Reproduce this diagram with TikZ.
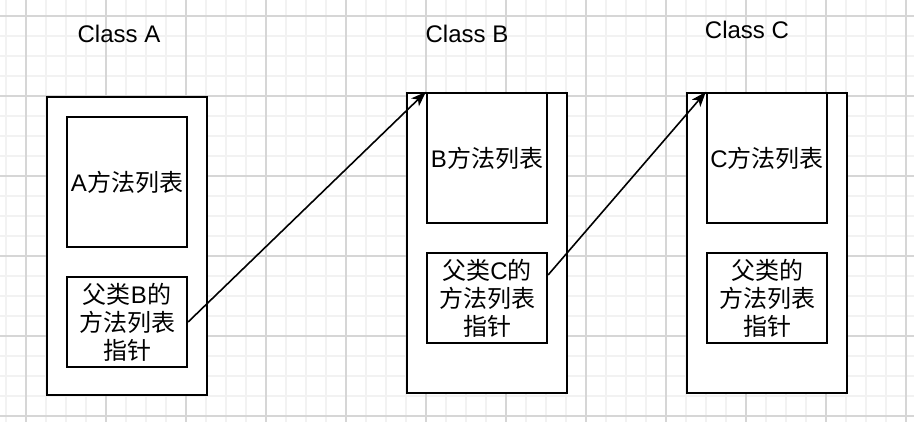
\documentclass[tikz,border=0pt]{standalone}
\usepackage{fontspec}
\setmainfont{Liberation Sans}
\newfontfamily\cjk{Noto Sans CJK SC}
\usetikzlibrary{arrows.meta, positioning, calc}
\definecolor{minorgrid}{HTML}{F2F2F2}
\definecolor{majorgrid}{HTML}{D6D6D6}

\begin{document}
\begin{tikzpicture}[x=1pt, y=-1pt,
    classbox/.style={draw, line width=2.2pt, minimum width=160pt, inner sep=0pt},
    listbox/.style={draw, line width=2.2pt, fill=white, minimum width=120pt, minimum height=130pt, inner sep=0pt},
    ptrbox/.style={draw, line width=2.2pt, fill=white, minimum width=120pt, minimum height=90pt, inner sep=0pt, align=center},
    label/.style={font=\fontsize{24}{28}\selectfont},
    ptrarrow/.style={line width=1.6pt, -{Stealth[length=15pt, width=11pt, inset=4pt]}}]
  \useasboundingbox (0,0) rectangle (914,422);
  \fill[white] (0,0) rectangle (914,422);

  % Grid
  \foreach \gx in {6,26,...,906} \draw[minorgrid, line width=1.5pt] (\gx,0) -- (\gx,422);
  \foreach \gy in {16,36,...,416} \draw[minorgrid, line width=1.5pt] (0,\gy) -- (914,\gy);
  \foreach \gx in {26,106,...,906} \draw[majorgrid, line width=1.5pt] (\gx,0) -- (\gx,422);
  \foreach \gy in {16,96,...,416} \draw[majorgrid, line width=1.5pt] (0,\gy) -- (914,\gy);

  % Labels
  \node [label] (titleA) at (119,34) {Class A};
  \node [label] (titleB) at (467,34) {Class B};
  \node [label] (titleC) at (747,30) {Class C};

  % Class A
  \node [classbox, fill=white, minimum height=298pt] (classA) at (127,246) {};
  \node [listbox, label] (methA) at (127,182) {A{\cjk 方法列表}};
  \node [ptrbox, label] (ptrA) at (127,322) {{\cjk 父类}B{\cjk 的}\\{\cjk 方法列表}\\{\cjk 指针}};

  % Class B
  \node [classbox, fill=white, minimum height=300pt] (classB) at (487,243) {};
  \node [listbox, label] (methB) at (487,158) {B{\cjk 方法列表}};
  \node [ptrbox, label] (ptrB) at (487,298) {{\cjk 父类}C{\cjk 的}\\{\cjk 方法列表}\\{\cjk 指针}};

  % Class C
  \node [classbox, fill=white, minimum height=300pt] (classC) at (767,243) {};
  \node [listbox, label] (methC) at (767,158) {C{\cjk 方法列表}};
  \node [ptrbox, label] (ptrC) at (767,298) {{\cjk 父类的}\\{\cjk 方法列表}\\{\cjk 指针}};

  % Pointers
  \draw[ptrarrow] (ptrA.east) -- (methB.north west);
  \draw[ptrarrow] ($(ptrB.north east)!0.5!(ptrB.east)$) -- (methC.north west);
\end{tikzpicture}
\end{document}
